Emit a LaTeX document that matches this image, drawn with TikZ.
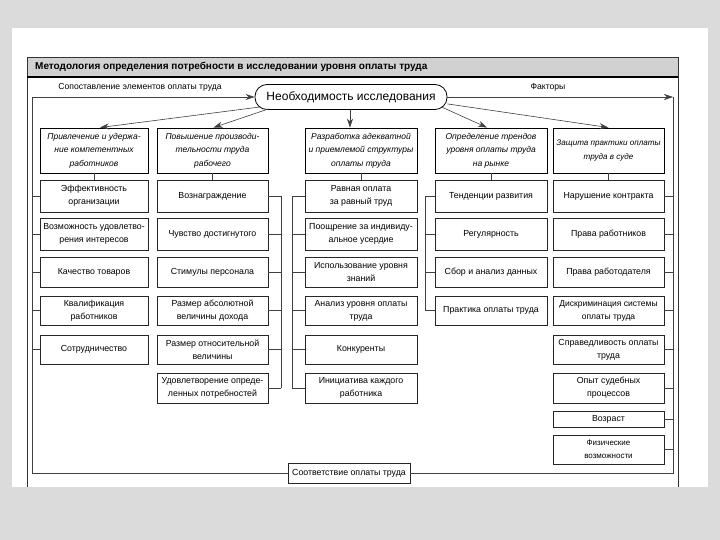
\documentclass[tikz,border=0pt]{standalone}
\usepackage{fontspec}
\setmainfont{Liberation Sans}
\usetikzlibrary{arrows.meta,calc}
\begin{document}
\begin{tikzpicture}[x=1pt,y=-1pt,
  sub/.style={draw=black!85, line width=0.7pt, fill=white, align=center, inner sep=1pt, font=\fontsize{8.8}{13}\selectfont},
  head/.style={draw=black, line width=0.9pt, fill=white, align=center, inner sep=1pt, minimum height=45pt, font=\fontsize{8.5}{13.5}\selectfont\itshape},
  wa/.style={minimum width=108pt}, wb/.style={minimum width=111pt},
  wc/.style={minimum width=112pt}, wd/.style={minimum width=112pt},
  we/.style={minimum width=111pt},
  hA/.style={minimum height=32pt}, hB/.style={minimum height=30pt},
  hC/.style={minimum height=29pt}, hD/.style={minimum height=16pt},
  conn/.style={draw=black!75, line width=0.6pt},
  arr/.style={conn, -{Stealth[length=9pt,width=6pt]}},
  lbl/.style={font=\fontsize{8.6}{10}\selectfont, inner sep=0pt}
]
\useasboundingbox (0,0) rectangle (720,540);
\fill[black!14] (0,0) rectangle (720,540);
\fill[white] (12,28) rectangle (708,487);
% frame and title bar
\fill[black!18] (27,57) rectangle (678,77);
\draw[black!80, line width=0.6pt] (27,487) -- (27,57) -- (678,57) -- (678,487);
\draw[black, line width=1.2pt] (27,77) -- (678,77);
\node[anchor=west, inner sep=0pt, font=\fontsize{10}{11}\selectfont\bfseries] (title) at (35,67) {Методология определения потребности в исследовании уровня оплаты труда};

% central node
\node[draw, line width=0.8pt, rounded corners=12pt, minimum width=192pt, minimum height=25pt, inner sep=0pt, font=\fontsize{12}{14}\selectfont] (need) at (351,97) {Необходимость исследования};
\node[lbl] (lsop) at (140,87) {Сопоставление элементов оплаты труда};
\node[lbl] (lfac) at (548,87) {Факторы};

% headers
\node[head, wa] (h1) at (94,150.5) {Привлечение и удержа-\\ние компетентных\\работников};
\node[head, wb] (h2) at (212.5,150.5) {Повышение производи-\\тельности труда\\рабочего};
\node[head, wc] (h3) at (361,150.5) {Разработка адекватной\\и приемлемой структуры\\оплаты труда};
\node[head, wd] (h4) at (491,150.5) {Определение трендов\\уровня оплаты труда\\на рынке};
\node[head, we, font=\fontsize{8.1}{13.5}\selectfont\itshape] (h5) at (608.5,150.5) {Защита практики оплаты\\труда в суде};

% column 1
\node[sub, wa, hA] (a1) at (94,196) {Эффективность\\организации};
\node[sub, wa, hA] (a2) at (94,234) {Возможность удовлетво-\\рения интересов};
\node[sub, wa, hB] (a3) at (94,272) {Качество товаров};
\node[sub, wa, hC] (a4) at (94,310.5) {Квалификация\\работников};
\node[sub, wa, hC] (a5) at (94,349.5) {Сотрудничество};
% column 2
\node[sub, wb, hA] (b1) at (212.5,196) {Вознаграждение};
\node[sub, wb, hA] (b2) at (212.5,234) {Чувство достигнутого};
\node[sub, wb, hB] (b3) at (212.5,272) {Стимулы персонала};
\node[sub, wb, hC] (b4) at (212.5,310.5) {Размер абсолютной\\величины дохода};
\node[sub, wb, hC] (b5) at (212.5,349.5) {Размер относительной\\величины};
\node[sub, wb, hB] (b6) at (212.5,388) {Удовлетворение опреде-\\ленных потребностей};
% column 3
\node[sub, wc, hA] (c1) at (361,196) {Равная оплата\\за равный труд};
\node[sub, wc, hA] (c2) at (361,234) {Поощрение за индивиду-\\альное усердие};
\node[sub, wc, hB] (c3) at (361,272) {Использование уровня\\знаний};
\node[sub, wc, hC] (c4) at (361,310.5) {Анализ уровня оплаты\\труда};
\node[sub, wc, hC] (c5) at (361,349.5) {Конкуренты};
\node[sub, wc, hB] (c6) at (361,388) {Инициатива каждого\\работника};
% column 4
\node[sub, wd, hA] (d1) at (491,196) {Тенденции развития};
\node[sub, wd, hA] (d2) at (491,234) {Регулярность};
\node[sub, wd, hB] (d3) at (491,272) {Сбор и анализ данных};
\node[sub, wd, hC] (d4) at (491,310.5) {Практика оплаты труда};
% column 5
\node[sub, we, hA] (e1) at (608.5,196) {Нарушение контракта};
\node[sub, we, hA] (e2) at (608.5,234) {Права работников};
\node[sub, we, hB] (e3) at (608.5,272) {Права работодателя};
\node[sub, we, hC, font=\fontsize{8.5}{13}\selectfont] (e4) at (608.5,310.5) {Дискриминация системы\\оплаты труда};
\node[sub, we, hC] (e5) at (608.5,349.5) {Справедливость оплаты\\труда};
\node[sub, we, hB] (e6) at (608.5,388) {Опыт судебных\\процессов};
\node[sub, we, hD] (e7) at (608.5,419) {Возраст};
\node[sub, we, hC, font=\fontsize{8}{13}\selectfont] (e8) at (608.5,449.5) {Физические\\возможности};

% bottom node
\node[sub, minimum width=122pt, minimum height=20pt] (match) at (349,473) {Соответствие оплаты труда};

% outer loop connectors
\coordinate (tl) at (32,97);
\coordinate (tr) at (673,97);
\coordinate (bl) at (32,473);
\coordinate (br) at (673,473);
\draw[conn] (bl) -- (tl);
\draw[arr] (tl) -- (need.west);
\draw[arr] (need.east) -- (tr);
\draw[conn] (bl) -- (match.west);
\draw[conn] (match.east) -- (br) -- (tr);

% arrows to headers
\coordinate (h3t) at ([xshift=-11pt]h3.north);
\draw[arr] ([xshift=6pt,yshift=3pt]need.south west) -- ([xshift=6pt]h1.north);
\draw[arr] ([xshift=14pt,yshift=1pt]need.south west) -- ([xshift=1pt]h2.north);
\draw[arr] (need.south -| h3t) -- (h3t);
\draw[arr] ([xshift=-6pt,yshift=3pt]need.south east) -- ([xshift=-4pt]h4.north);
\draw[arr] ([yshift=6pt]need.south east) -- (h5.north);

% header to first box
\foreach \h/\s in {h1/a1,h2/b1,h3/c1,h4/d1,h5/e1}
  \draw[conn] (\h.south) -- (\s.north);

% column 1 stubs to left line
\foreach \s in {a1,a2,a3,a4,a5}
  \draw[conn] (\s.west) -- (\s.west -| tl);

% column 2 right bus
\coordinate (xb) at (281,0);
\draw[conn] (b1.east -| xb) -- (b6.east -| xb);
\foreach \s in {b1,b2,b3,b4,b5,b6}
  \draw[conn] (\s.east) -- (\s.east -| xb);

% column 3 left bus
\coordinate (xc) at (292,0);
\draw[conn] (c1.west -| xc) -- (c6.west -| xc);
\foreach \s in {c1,c2,c3,c4,c5,c6}
  \draw[conn] (\s.west) -- (\s.west -| xc);

% column 4 left bus
\coordinate (xd) at (425,0);
\draw[conn] (d1.west -| xd) -- (d4.west -| xd);
\foreach \s in {d1,d2,d3,d4}
  \draw[conn] (\s.west) -- (\s.west -| xd);

% column 5 stubs to right line
\foreach \s in {e1,e2,e3,e4,e5,e6,e7,e8}
  \draw[conn] (\s.east) -- (\s.east -| tr);
\end{tikzpicture}
\end{document}
